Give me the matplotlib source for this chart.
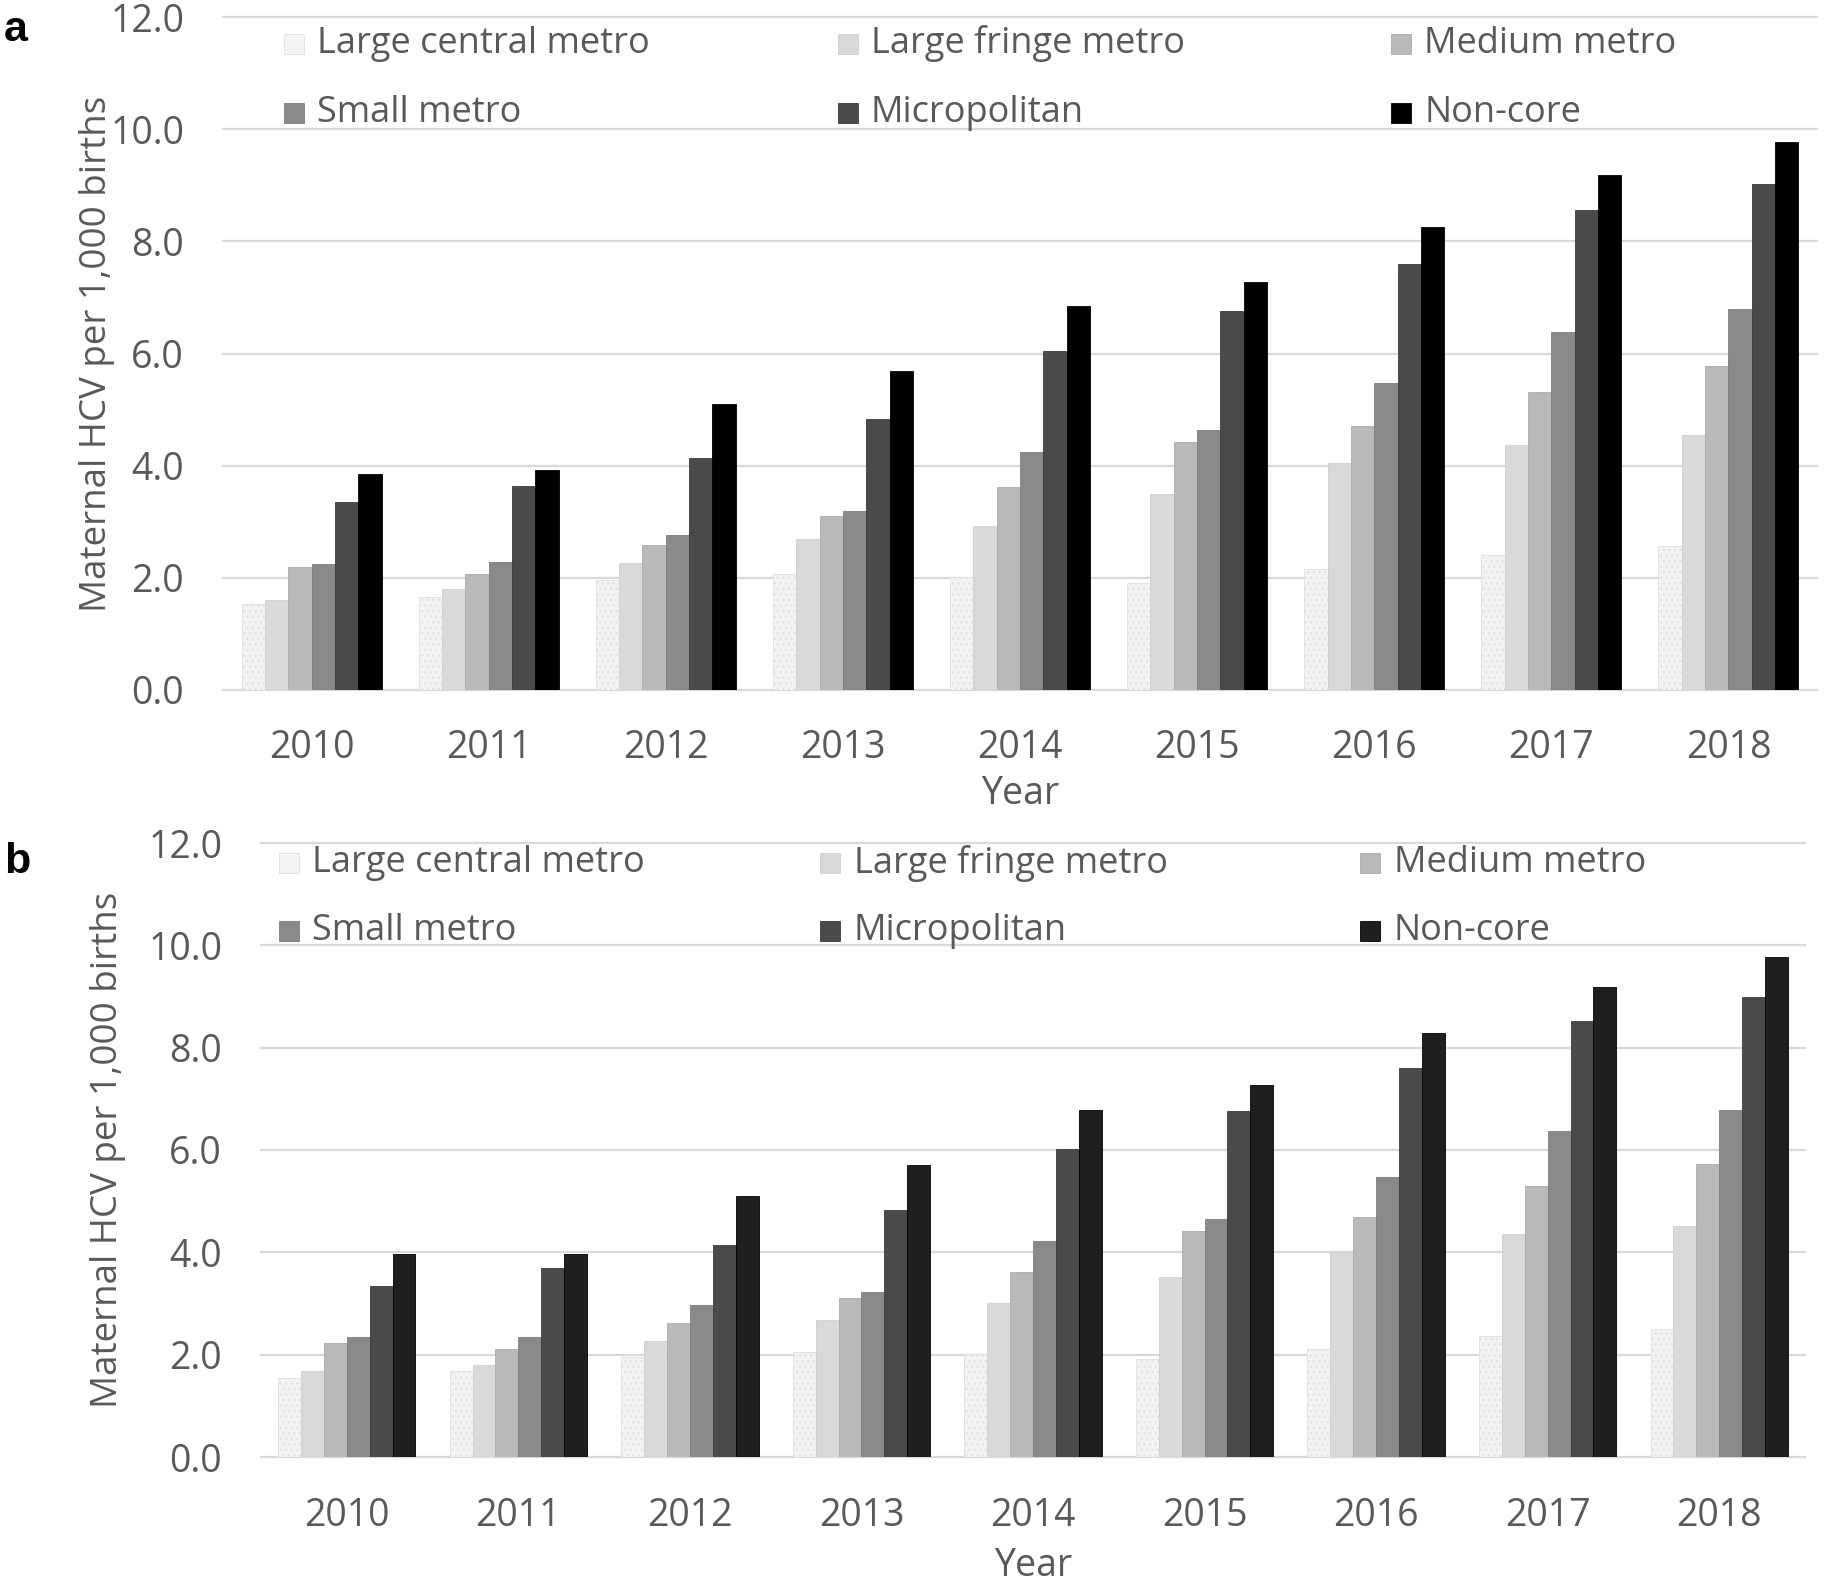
import matplotlib
matplotlib.use("Agg")
import matplotlib.pyplot as plt
import numpy as np

plt.rcParams['font.family'] = ['Open Sans', 'DejaVu Sans']
plt.rcParams['hatch.linewidth'] = 0.8

years = ["2010", "2011", "2012", "2013", "2014", "2015", "2016", "2017", "2018"]
series_names = ["Large central metro", "Large fringe metro", "Medium metro",
                "Small metro", "Micropolitan", "Non-core"]

# Panel a
large_central_a = [1.54, 1.66, 1.96, 2.07, 2.01, 1.91, 2.16, 2.40, 2.56]
large_fringe_a = [1.60, 1.80, 2.26, 2.69, 2.93, 3.50, 4.05, 4.37, 4.54]
medium_a = [2.19, 2.07, 2.59, 3.11, 3.62, 4.43, 4.70, 5.31, 5.77]
small_a = [2.25, 2.29, 2.77, 3.20, 4.24, 4.63, 5.47, 6.39, 6.80]
micropolitan_a = [3.36, 3.63, 4.14, 4.83, 6.04, 6.76, 7.60, 8.55, 9.03]
noncore_a = [3.85, 3.93, 5.10, 5.69, 6.84, 7.28, 8.25, 9.19, 9.78]

# Panel b
large_central_b = [1.54, 1.69, 1.96, 2.05, 2.01, 1.91, 2.12, 2.37, 2.51]
large_fringe_b = [1.69, 1.80, 2.27, 2.67, 3.01, 3.51, 4.01, 4.35, 4.51]
medium_b = [2.22, 2.12, 2.61, 3.11, 3.62, 4.42, 4.69, 5.30, 5.73]
small_b = [2.34, 2.34, 2.97, 3.22, 4.23, 4.65, 5.47, 6.37, 6.79]
micropolitan_b = [3.35, 3.69, 4.15, 4.82, 6.02, 6.77, 7.60, 8.53, 9.00]
noncore_b = [3.97, 3.97, 5.11, 5.70, 6.79, 7.27, 8.28, 9.18, 9.77]

colors_a = ["#f3f3f3", "#d9d9d9", "#b9b9b9", "#8a8a8a", "#4a4a4a", "#000000"]
colors_b = ["#f3f3f3", "#d9d9d9", "#b9b9b9", "#8a8a8a", "#4a4a4a", "#1f1f1f"]
edges = ["#e0e0e0", "#cfcfcf", "#acacac", "#7c7c7c", "#3a3a3a", "#000000"]

TXT = "#595959"
W, H = 1829, 1589

fig = plt.figure(figsize=(W / 100, H / 100), dpi=100)


def panel(rect, data, colors, group_frac, legend_x, legend_y, text_dx,
          ylabel_x, xlabel_y, tick_pad_y, tick_pad_x):
    ax = fig.add_axes(rect)
    x = np.arange(len(years))
    n = len(data)
    w = group_frac / n
    for i, vals in enumerate(data):
        off = (i - (n - 1) / 2) * w
        if i == 0:
            ax.bar(x + off, vals, w, color=colors[i], edgecolor=edges[i],
                   hatch='...', linewidth=0.6, zorder=3)
        else:
            ax.bar(x + off, vals, w, color=colors[i], edgecolor=edges[i],
                   linewidth=0.6, zorder=3)
    ax.set_xlim(-0.5, len(years) - 0.5)
    ax.set_ylim(0, 12)
    yt = np.arange(0, 12.1, 2)
    ax.set_yticks(yt)
    ax.set_yticklabels([f"{v:.1f}" for v in yt])
    ax.set_xticks(x)
    ax.set_xticklabels(years)
    ax.tick_params(axis='y', length=0, pad=tick_pad_y, labelsize=27, labelcolor=TXT)
    ax.tick_params(axis='x', length=0, pad=tick_pad_x, labelsize=27, labelcolor=TXT)
    for s in ax.spines.values():
        s.set_visible(False)
    ax.set_axisbelow(True)
    ax.yaxis.grid(True, color="#d9d9d9", linewidth=1.6)
    for gl in ax.get_ygridlines():
        gl.set_clip_on(False)
    ax.set_ylabel("Maternal HCV per 1,000 births", fontsize=26.5, color=TXT, va='center')
    ax.yaxis.set_label_coords(ylabel_x, 0.5)
    ax.set_xlabel("Year", fontsize=27, color=TXT, va='center')
    ax.xaxis.set_label_coords(0.5, xlabel_y)
    # legend, 2 rows x 3 columns
    for i, name in enumerate(series_names):
        r, c = divmod(i, 3)
        lx, ly = legend_x[c], legend_y[r]
        ax.plot([lx], [ly], marker='s', markersize=15, color=colors[i],
                markeredgecolor=edges[i], markeredgewidth=0.6,
                transform=ax.transAxes, clip_on=False, zorder=5)
        ax.text(lx + text_dx, ly, name, transform=ax.transAxes, fontsize=26,
                color=TXT, ha='left', va='center', zorder=5)
    return ax


data_a = [large_central_a, large_fringe_a, medium_a, small_a, micropolitan_a, noncore_a]
data_b = [large_central_b, large_fringe_b, medium_b, small_b, micropolitan_b, noncore_b]

# panel a geometry (pixels -> fractions)
a_l, a_r, a_t, a_b = 223, 1817, 17, 690
rect_a = [a_l / W, 1 - a_b / H, (a_r - a_l) / W, (a_b - a_t) / H]
aw, ah = a_r - a_l, a_b - a_t
panel(rect_a, data_a, colors_a, 0.79,
      [(294 - a_l) / aw, (848 - a_l) / aw, (1401 - a_l) / aw],
      [(a_b - 44) / ah, (a_b - 113) / ah], 23 / aw,
      (97 - a_l) / aw, -(794 - a_b) / ah, 28, 28)

b_l, b_r, b_t, b_b = 261, 1805, 843, 1457
rect_b = [b_l / W, 1 - b_b / H, (b_r - b_l) / W, (b_b - b_t) / H]
bw, bh = b_r - b_l, b_b - b_t
panel(rect_b, data_b, colors_b, 0.80,
      [(289 - b_l) / bw, (830 - b_l) / bw, (1370 - b_l) / bw],
      [(b_b - 863) / bh, (b_b - 931) / bh], 23.5 / bw,
      (108 - b_l) / bw, -(1566 - b_b) / bh, 28, 29)

fig.text(4 / W, 1 - 41 / H, "a", fontsize=31, fontweight='bold',
         family='Liberation Sans', ha='left', va='baseline', color='black')
fig.text(4 / W, 1 - 873 / H, "b", fontsize=31, fontweight='bold',
         family='Liberation Sans', ha='left', va='baseline', color='black')

fig.savefig("out.png", dpi=100, facecolor='white')
